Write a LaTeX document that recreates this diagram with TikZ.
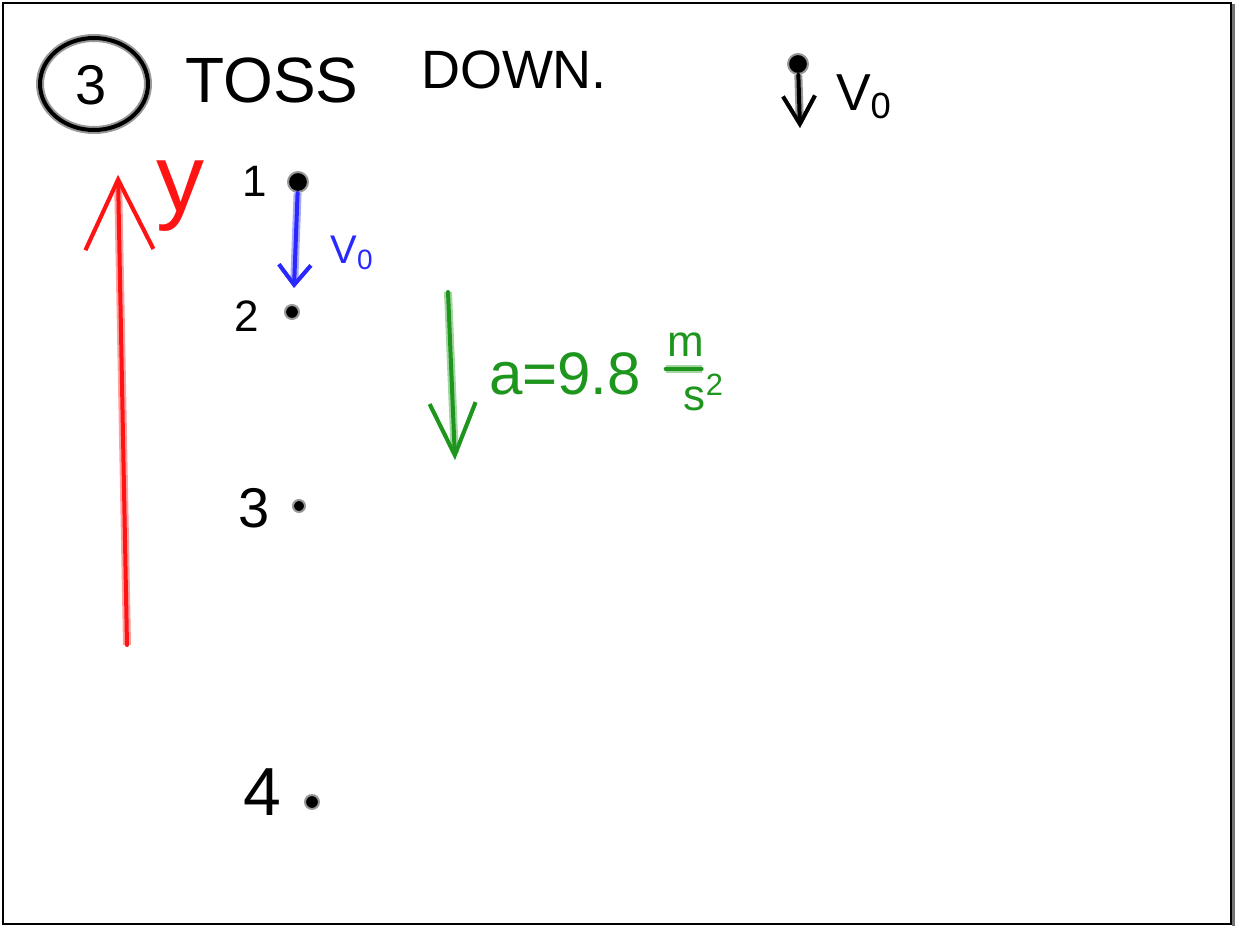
\documentclass[tikz,border=0pt]{standalone}
\usepackage{fontspec}
\setmainfont{Liberation Sans}
\usetikzlibrary{arrows.meta}
\definecolor{inkRed}{RGB}{255,20,20}
\definecolor{inkBlue}{RGB}{40,40,255}
\definecolor{inkGreen}{RGB}{30,150,30}

\begin{document}
\begin{tikzpicture}
[x=0.5pt,y=-0.5pt,%
    penBlackDecorate/.style={draw=black,line width=2pt,line cap=round,line join=round,preaction={draw=black!40,line width=4pt}},%
    penRedDecorate/.style={draw=inkRed,line width=2pt,line cap=round,line join=round,preaction={draw=inkRed!40,line width=4pt}},%
    penBlueDecorate/.style={draw=inkBlue,line width=2pt,line cap=round,line join=round,preaction={draw=inkBlue!40,line width=4pt}},%
    penGreenDecorate/.style={draw=inkGreen,line width=2pt,line cap=round,line join=round,preaction={draw=inkGreen!40,line width=4pt}},%
    dotDecorate/.style={shape=circle,fill=black,draw=black!40,line width=1pt,inner sep=0pt},%
    textDecorate/.style={inner sep=0pt,outer sep=0pt}]
    \useasboundingbox (0,0) rectangle (1235,926);
    %% frame
    \fill[black!55] (1232,4) rectangle (1235,926);
    \draw[line width=1pt] (3,3) rectangle (1231,924);
    %% title
    \node (num3) at (91,85) [textDecorate] {\fontsize{28}{28}\selectfont 3};
    \draw[penBlackDecorate] (94,84) ellipse [x radius=54, y radius=46];
    \node (toss) at (272,80) [textDecorate] {\fontsize{32}{32}\selectfont TOSS};
    \node (down) at (514,70) [textDecorate] {\fontsize{27}{27}\selectfont DOWN.};
    %% ball thrown down, top right
    \node (ball) at (798,64) [dotDecorate,minimum size=10pt] {};
    \coordinate (balltip) at (800,128);
    \draw[penBlackDecorate,-{Straight Barb[length=14pt,width=16pt,line width=2pt]}] (ball) -- (balltip);
    \node (vtop) at (864,97) [textDecorate] {\fontsize{26}{26}\selectfont V\textsubscript{0}};
    %% y axis
    \coordinate (ybot) at (127,645);
    \coordinate (ytop) at (118,175);
    \draw[penRedDecorate,-{Straight Barb[length=35pt,width=34pt,line width=2pt]}] (ybot) -- (ytop);
    \node (ylabel) at (180,196) [textDecorate,text=inkRed] {\fontsize{48}{48}\selectfont y};
    %% positions
    \foreach \nodename/\x/\y/\nx/\ny/\fs/\ds in {1/298/182/255/181/22/10, 2/292/312/247/316/22/7, 3/299/506/254/508/28/6, 4/312/802/262/792/34/7}
    {
        \node (p\nodename) at (\x,\y) [dotDecorate,minimum size=\ds pt] {};
        \node (n\nodename) at (\nx,\ny) [textDecorate] {\fontsize{\fs}{\fs}\selectfont \nodename};
    }
    %% initial velocity
    \coordinate (v0tip) at (294,288);
    \draw[penBlueDecorate,-{Straight Barb[length=10pt,width=16pt,line width=2pt]}] (p1) -- (v0tip);
    \node (v0) at (352,253) [textDecorate,text=inkBlue] {\fontsize{20}{20}\selectfont V\textsubscript{0}};
    %% acceleration
    \coordinate (atop) at (448,292);
    \coordinate (atip) at (455,460);
    \draw[penGreenDecorate,-{Straight Barb[length=26pt,width=23pt,line width=2pt]}] (atop) -- (atip);
    \node (aval) at (565,374) [textDecorate,text=inkGreen] {\fontsize{30}{30}\selectfont a=9.8};
    \node (unitm) at (686,345) [textDecorate,text=inkGreen] {\fontsize{22}{22}\selectfont m};
    \node (units) at (704,392) [textDecorate,text=inkGreen] {\fontsize{22}{22}\selectfont s\textsuperscript{2}};
    \draw[penGreenDecorate] (unitm.south west) ++(-2,12) -- ++(36,0);
\end{tikzpicture}
\end{document}
